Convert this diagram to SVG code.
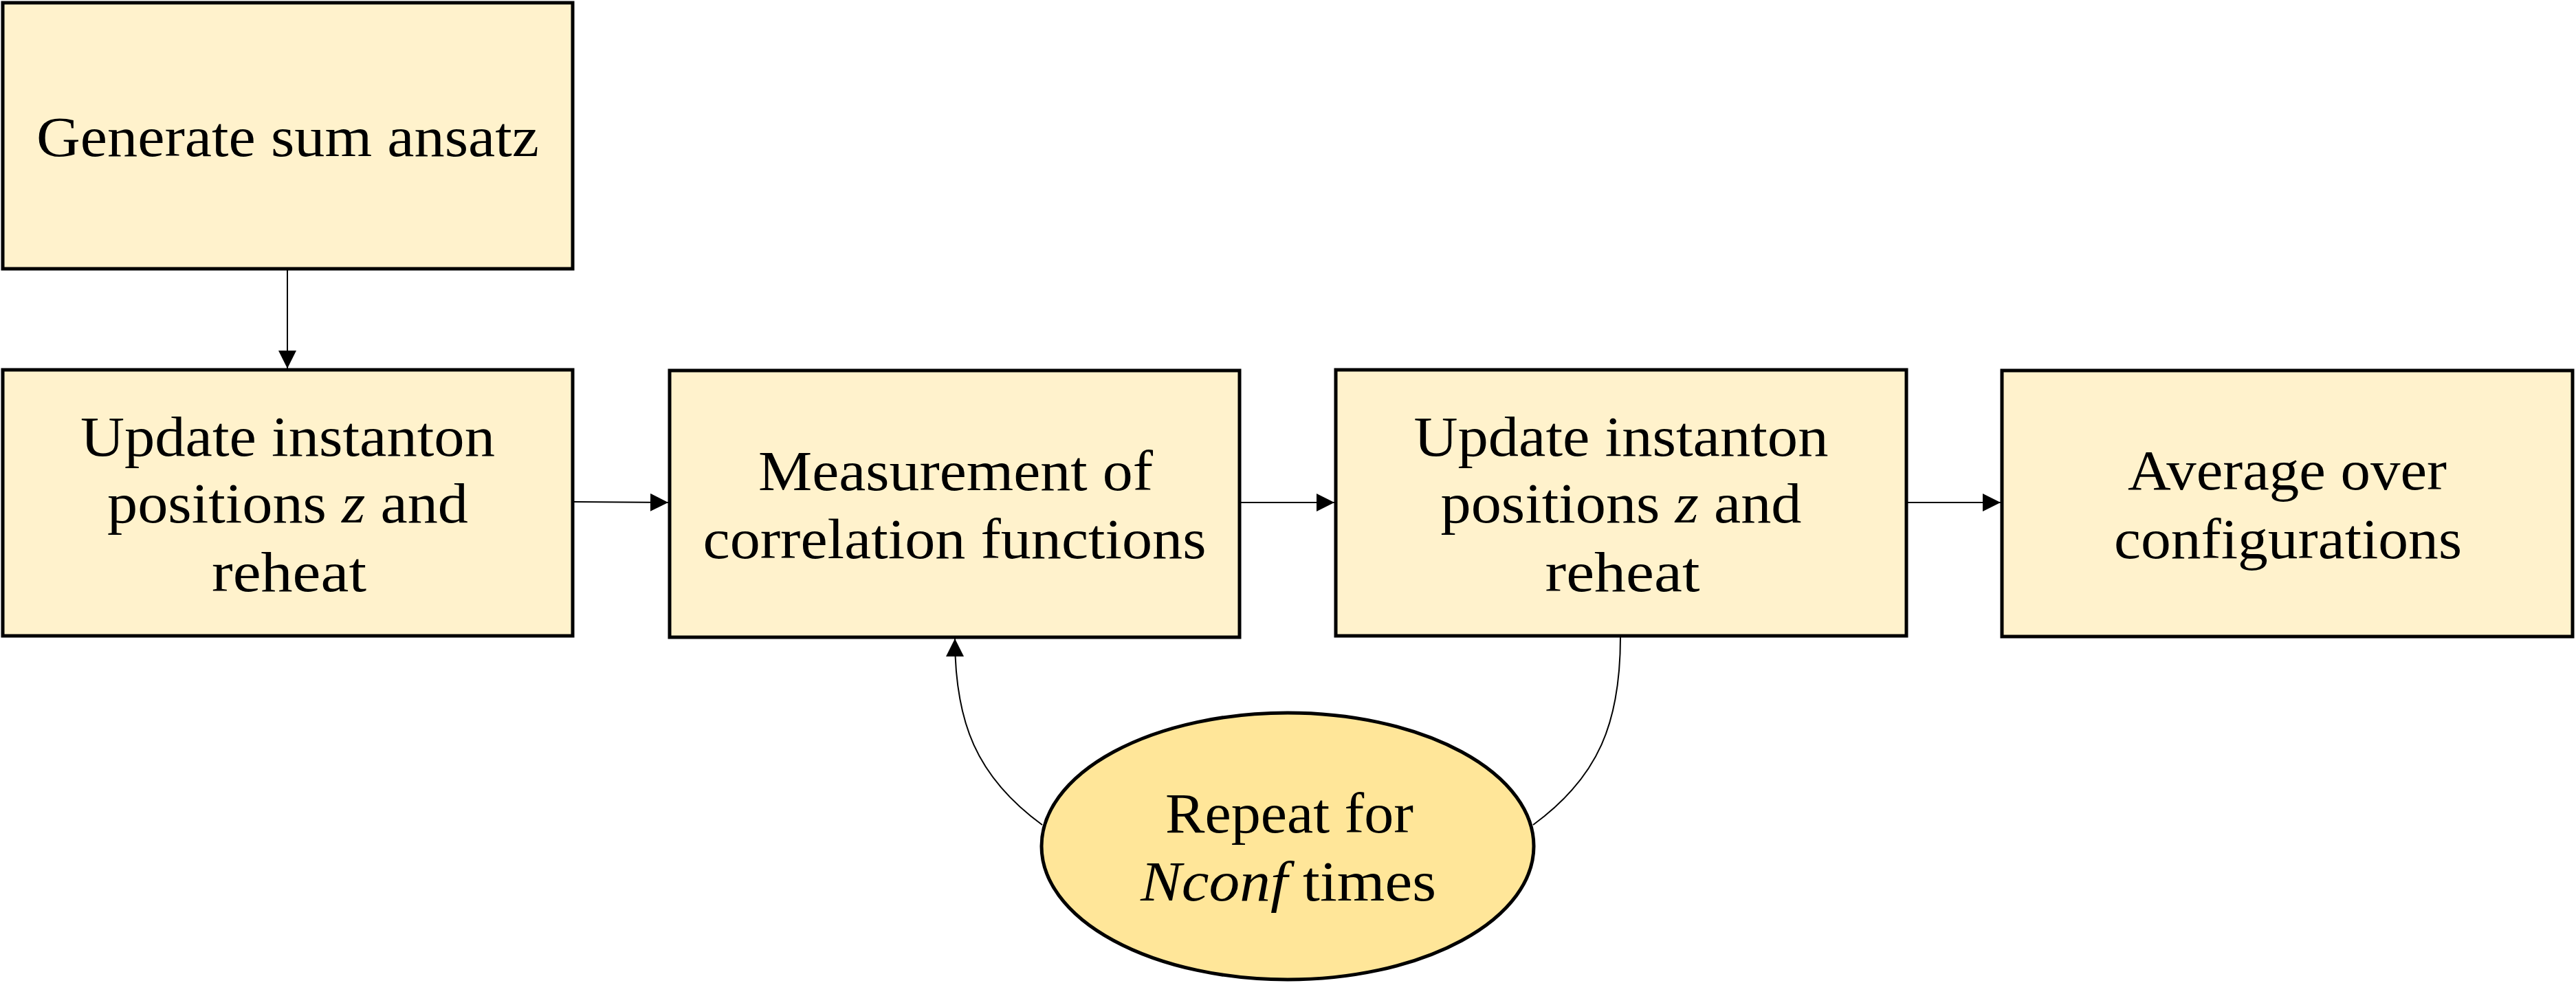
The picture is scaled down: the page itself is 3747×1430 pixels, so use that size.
<svg xmlns="http://www.w3.org/2000/svg" width="3747" height="1430" viewBox="0 0 3747 1430">
<style>
.box{fill:#FFF2CC;stroke:#000;stroke-width:5}
.ell{fill:#FFE699;stroke:#000;stroke-width:5}
.lbl{font-family:"Liberation Serif","Times New Roman",serif;font-size:82px;fill:#000;text-anchor:middle}
.con{fill:none;stroke:#000;stroke-width:2}
</style>
<defs>
<marker id="ah" markerUnits="userSpaceOnUse" markerWidth="26" markerHeight="26" refX="26" refY="13" orient="auto" viewBox="0 0 26 26">
<path d="M0,0 L26,13 L0,26 z" fill="#000"/>
</marker>
</defs>
<rect width="3747" height="1430" fill="#fff"/>
<g id="connectors">
<path class="con" d="M418,393 L418,536" marker-end="url(#ah)"/>
<path class="con" d="M835,730 L972,731" marker-end="url(#ah)"/>
<path class="con" d="M1805,731 L1941,731" marker-end="url(#ah)"/>
<path class="con" d="M2775,731 L2910,731" marker-end="url(#ah)"/>
<path class="con" d="M1516,1200 C1420,1130 1389,1050 1389,929" marker-end="url(#ah)"/>
<path class="con" d="M2357,927 C2357,1050 2326,1130 2230,1200"/>
</g>
<g id="n1">
<rect class="box" x="4" y="4" width="829" height="387"/>
<text class="lbl" x="418.5" y="227" textLength="731" lengthAdjust="spacingAndGlyphs">Generate sum ansatz</text>
</g>
<g id="n2">
<rect class="box" x="4" y="538" width="829" height="387"/>
<text class="lbl" x="418.5" y="663" textLength="603" lengthAdjust="spacingAndGlyphs">Update instanton</text>
<text class="lbl" x="418.5" y="760" textLength="525" lengthAdjust="spacingAndGlyphs">positions <tspan font-style="italic">z</tspan> and</text>
<text class="lbl" x="420.5" y="860" textLength="225" lengthAdjust="spacingAndGlyphs">reheat</text>
</g>
<g id="n3">
<rect class="box" x="974" y="539" width="829" height="388"/>
<text class="lbl" x="1390" y="713" textLength="574" lengthAdjust="spacingAndGlyphs">Measurement of</text>
<text class="lbl" x="1388.5" y="812" textLength="732" lengthAdjust="spacingAndGlyphs">correlation functions</text>
</g>
<g id="n4">
<rect class="box" x="1943" y="538" width="830" height="387"/>
<text class="lbl" x="2358" y="663" textLength="603" lengthAdjust="spacingAndGlyphs">Update instanton</text>
<text class="lbl" x="2358" y="760" textLength="525" lengthAdjust="spacingAndGlyphs">positions <tspan font-style="italic">z</tspan> and</text>
<text class="lbl" x="2360" y="860" textLength="225" lengthAdjust="spacingAndGlyphs">reheat</text>
</g>
<g id="n5">
<rect class="box" x="2912" y="539" width="830" height="387"/>
<text class="lbl" x="3327" y="712" textLength="464" lengthAdjust="spacingAndGlyphs">Average over</text>
<text class="lbl" x="3328" y="812" textLength="506" lengthAdjust="spacingAndGlyphs">configurations</text>
</g>
<g id="n6">
<ellipse class="ell" cx="1873" cy="1231" rx="358" ry="194"/>
<text class="lbl" x="1875.5" y="1211" textLength="361" lengthAdjust="spacingAndGlyphs">Repeat for</text>
<text class="lbl" x="1874" y="1310" textLength="430" lengthAdjust="spacingAndGlyphs"><tspan font-style="italic">Nconf</tspan> times</text>
</g>
</svg>
